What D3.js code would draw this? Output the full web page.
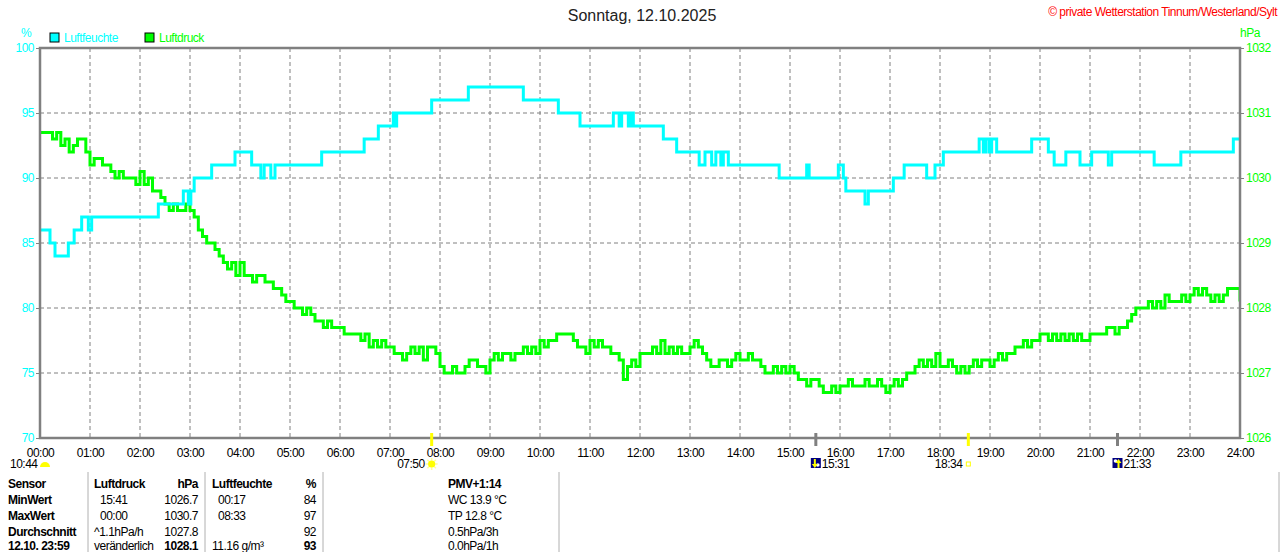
<!DOCTYPE html>
<html>
<head>
<meta charset="utf-8">
<script src="https://cdn.jsdelivr.net/npm/d3@7"></script>
<style>
  body { margin: 0; background: #fff; }
  svg { display: block; font-family: "Liberation Sans", Arial, sans-serif; }
  svg text.small { font-size: 12px; letter-spacing: -0.5px; }
</style>
</head>
<body>
<div id="chart"></div>
<script>
// ---- data ----
const title = "Sonntag, 12.10.2025";
const copyright = "\u00a9 private Wetterstation Tinnum/Westerland/Sylt";

const hourLabels = ["00:00","01:00","02:00","03:00","04:00","05:00","06:00","07:00","08:00",
  "09:00","10:00","11:00","12:00","13:00","14:00","15:00","16:00","17:00","18:00","19:00",
  "20:00","21:00","22:00","23:00","24:00"];
const humidityTicks = [70, 75, 80, 85, 90, 95, 100];
const pressureTicks = [1026, 1027, 1028, 1029, 1030, 1031, 1032];

// Luftfeuchte: [minute of day, % from that minute on]
const humidity = [
  [0,86],[12,85],[18,84],[34,85],[41,86],[50,87],[58,86],[62,87],[142,88],[172,89],[178,88],
  [181,89],[185,90],[206,91],[234,92],[254,91],[265,90],[269,91],[277,90],[282,91],[338,92],
  [389,93],[406,94],[424,95],[426,94],[428,95],[470,96],[514,97],[580,96],[622,95],[648,94],
  [688,95],[695,94],[698,95],[706,94],[709,95],[712,94],[748,93],[764,92],[791,91],[798,92],
  [806,91],[811,92],[817,91],[820,92],[826,91],[887,90],[920,91],[923,90],[958,91],[964,90],
  [967,89],[990,88],[994,89],[1024,90],[1037,91],[1064,90],[1074,91],[1084,92],[1127,93],
  [1132,92],[1135,93],[1139,92],[1142,93],[1148,92],[1190,93],[1210,92],[1217,91],[1231,92],
  [1248,91],[1262,92],[1282,91],[1286,92],[1337,91],[1369,92],[1432,93],[1440,93]
];

// Luftdruck in hPa, one reading every 5 minutes from 00:00 to 24:00
const pressureStep = 5;
const pressure = [
  1030.7,1030.7,1030.7,1030.6,1030.7,1030.5,1030.6,1030.4,1030.5,1030.6,1030.6,
  1030.4,1030.2,1030.3,1030.3,1030.2,1030.2,1030.1,1030.0,1030.1,1030.0,
  1030.0,1030.0,1029.9,1030.1,1029.9,1030.0,1029.8,1029.8,1029.7,1029.6,
  1029.5,1029.6,1029.5,1029.5,1029.6,1029.5,1029.4,1029.2,1029.1,1029.0,
  1029.0,1028.9,1028.8,1028.7,1028.6,1028.7,1028.5,1028.7,1028.5,1028.5,
  1028.4,1028.5,1028.5,1028.4,1028.4,1028.3,1028.3,1028.2,1028.1,1028.1,
  1028.0,1028.0,1027.9,1028.0,1027.9,1027.8,1027.8,1027.7,1027.8,1027.7,
  1027.7,1027.7,1027.6,1027.6,1027.6,1027.6,1027.5,1027.6,1027.4,1027.5,
  1027.4,1027.5,1027.4,1027.4,1027.3,1027.3,1027.2,1027.3,1027.4,1027.3,
  1027.4,1027.2,1027.4,1027.4,1027.3,1027.1,1027.0,1027.0,1027.1,1027.0,
  1027.0,1027.1,1027.2,1027.2,1027.1,1027.1,1027.0,1027.2,1027.3,1027.2,
  1027.3,1027.3,1027.2,1027.3,1027.3,1027.4,1027.3,1027.4,1027.3,1027.5,
  1027.4,1027.5,1027.5,1027.6,1027.6,1027.6,1027.6,1027.5,1027.4,1027.4,
  1027.3,1027.5,1027.4,1027.5,1027.4,1027.4,1027.3,1027.3,1027.2,1026.9,
  1027.1,1027.2,1027.1,1027.3,1027.3,1027.3,1027.4,1027.3,1027.5,1027.3,
  1027.4,1027.3,1027.4,1027.3,1027.3,1027.4,1027.5,1027.4,1027.3,1027.2,
  1027.1,1027.1,1027.2,1027.2,1027.1,1027.2,1027.3,1027.2,1027.2,1027.3,
  1027.2,1027.2,1027.1,1027.0,1027.0,1027.1,1027.0,1027.1,1027.0,1027.1,
  1027.0,1026.9,1026.9,1026.8,1026.9,1026.9,1026.8,1026.7,1026.7,1026.8,
  1026.7,1026.8,1026.8,1026.9,1026.8,1026.8,1026.8,1026.9,1026.8,1026.8,
  1026.9,1026.8,1026.7,1026.8,1026.9,1026.8,1026.9,1027.0,1027.0,1027.1,
  1027.2,1027.1,1027.2,1027.1,1027.3,1027.1,1027.1,1027.2,1027.1,1027.0,
  1027.1,1027.0,1027.1,1027.2,1027.1,1027.2,1027.2,1027.1,1027.2,1027.3,
  1027.2,1027.3,1027.3,1027.4,1027.4,1027.5,1027.4,1027.5,1027.5,1027.6,
  1027.6,1027.5,1027.6,1027.5,1027.6,1027.5,1027.6,1027.5,1027.6,1027.5,
  1027.5,1027.6,1027.6,1027.6,1027.6,1027.7,1027.7,1027.6,1027.7,1027.7,
  1027.8,1027.9,1028.0,1028.0,1028.0,1028.1,1028.0,1028.1,1028.0,1028.2,
  1028.1,1028.1,1028.1,1028.2,1028.1,1028.2,1028.3,1028.2,1028.3,1028.2,
  1028.1,1028.2,1028.1,1028.2,1028.3,1028.3,1028.3,1028.1
];

// sun and moon times under the axis
const dayLength = "10:44";
const events = [
  {label: "07:50", minute: 470, kind: "sunrise"},
  {label: "15:31", minute: 931, kind: "moonset"},
  {label: "18:34", minute: 1114, kind: "sunset"},
  {label: "21:33", minute: 1293, kind: "moonrise"}
];

// summary table
const tableSensor = ["Sensor", "MinWert", "MaxWert", "Durchschnitt", "12.10. 23:59"];
const tablePressNote = ["Luftdruck", "15:41", "00:00", "^1.1hPa/h", "ver\u00e4nderlich"];
const tablePressVal = ["hPa", "1026.7", "1030.7", "1027.8", "1028.1"];
const tableHumNote = ["Luftfeuchte", "00:17", "08:33", "", "11.16 g/m\u00b3"];
const tableHumVal = ["%", "84", "97", "92", "93"];
const tableExtra = ["PMV+1:14", "WC 13.9 \u00b0C", "TP 12.8 \u00b0C", "0.5hPa/3h", "0.0hPa/1h"];

// ---- chart ----
const cyan = "#00ffff", green = "#00ff00", frame = "#808080";

const margin = {top: 48, left: 40, right: 40, bottom: 114};
const width = 1280 - margin.left - margin.right;
const height = 552 - margin.top - margin.bottom;

const svg = d3.select("#chart").append("svg")
  .attr("width", 1280)
  .attr("height", 552);

const g = svg.append("g")
  .attr("transform", `translate(${margin.left},${margin.top})`);

// scales
const xScale = d3.scaleLinear().domain([0, 1440]).range([0, width]);
const yHum = d3.scaleLinear().domain([70, 100]).range([height, 0]);
const yPres = d3.scaleLinear().domain([1026, 1032]).range([height, 0]);
const hourMinutes = hourLabels.map((d, i) => i * 60);

// dashed grid
g.append("g").selectAll("line")
  .data(hourMinutes.slice(1, -1))
  .join("line")
  .attr("x1", d => xScale(d)).attr("x2", d => xScale(d))
  .attr("y1", 0).attr("y2", height)
  .attr("stroke", frame).attr("stroke-dasharray", "4,3");

g.append("g").selectAll("line")
  .data(humidityTicks.slice(1, -1))
  .join("line")
  .attr("x1", 0).attr("x2", width)
  .attr("y1", d => yHum(d)).attr("y2", d => yHum(d))
  .attr("stroke", frame).attr("stroke-dasharray", "4,3");

// lines
svg.append("clipPath").attr("id", "plot")
  .append("rect").attr("width", width).attr("height", height);

const pressLine = d3.line()
  .x((d, i) => xScale(i * pressureStep))
  .y(d => yPres(d))
  .curve(d3.curveStepAfter);

const humLine = d3.line()
  .x(d => xScale(d[0]))
  .y(d => yHum(d[1]))
  .curve(d3.curveStepAfter);

g.append("path")
  .datum(pressure)
  .attr("clip-path", "url(#plot)")
  .attr("d", pressLine)
  .attr("fill", "none")
  .attr("stroke", green)
  .attr("stroke-width", 3);

g.append("path")
  .datum(humidity)
  .attr("clip-path", "url(#plot)")
  .attr("d", humLine)
  .attr("fill", "none")
  .attr("stroke", cyan)
  .attr("stroke-width", 3);

// frame
g.append("rect")
  .attr("width", width).attr("height", height)
  .attr("fill", "none").attr("stroke", frame).attr("stroke-width", 2.5);

// axes
const xAxis = d3.axisBottom(xScale)
  .tickValues(hourMinutes)
  .tickFormat((d, i) => hourLabels[i])
  .tickSize(0).tickPadding(10);

const xAxisGroup = g.append("g")
  .attr("transform", `translate(0,${height})`)
  .call(xAxis);
xAxisGroup.select(".domain").remove();
xAxisGroup.selectAll("text").attr("class", "small").attr("fill", "#000");

const yAxisLeft = g.append("g")
  .call(d3.axisLeft(yHum).tickValues(humidityTicks).tickFormat(d3.format("d")).tickSize(4).tickPadding(2));
yAxisLeft.select(".domain").remove();
yAxisLeft.selectAll("line").attr("stroke", frame);
yAxisLeft.selectAll("text").attr("class", "small").attr("fill", cyan);

const yAxisRight = g.append("g")
  .attr("transform", `translate(${width},0)`)
  .call(d3.axisRight(yPres).tickValues(pressureTicks).tickFormat(d3.format("d")).tickSize(4).tickPadding(2));
yAxisRight.select(".domain").remove();
yAxisRight.selectAll("line").attr("stroke", frame);
yAxisRight.selectAll("text").attr("class", "small").attr("fill", green);

// units
svg.append("text").attr("class", "small").attr("x", 26).attr("y", 37).attr("text-anchor", "middle")
  .attr("fill", cyan).text("%");
svg.append("text").attr("class", "small").attr("x", 1250).attr("y", 37).attr("text-anchor", "middle")
  .attr("fill", green).text("hPa");

// legend
const legend = [
  {name: "Luftfeuchte", color: cyan, x: 50},
  {name: "Luftdruck", color: green, x: 145}
];
const lg = svg.append("g").selectAll("g").data(legend).join("g")
  .attr("transform", d => `translate(${d.x},33)`);
lg.append("rect").attr("width", 9).attr("height", 9)
  .attr("fill", d => d.color).attr("stroke", "#000");
lg.append("text").attr("class", "small").attr("x", 14).attr("y", 9)
  .attr("fill", d => d.color).text(d => d.name);

// title and copyright
svg.append("text").attr("x", 642).attr("y", 21).attr("text-anchor", "middle")
  .attr("fill", "#222").style("font-size", "16px").text(title);
svg.append("text").attr("class", "small").attr("x", 1277).attr("y", 16).attr("text-anchor", "end")
  .attr("fill", "#ff0000").text(copyright);

// sun / moon markers
const ev = g.append("g").attr("transform", `translate(0,${height})`);
ev.selectAll("line").data(events).join("line")
  .attr("x1", d => xScale(d.minute)).attr("x2", d => xScale(d.minute))
  .attr("y1", -5).attr("y2", 8)
  .attr("stroke", d => d.kind.startsWith("sun") ? "#ffff00" : frame)
  .attr("stroke-width", 3);

const evLabel = ev.selectAll("g.ev").data(events).join("g")
  .attr("class", "ev")
  .attr("transform", d => `translate(${xScale(d.minute)},0)`);

evLabel.append("text")
  .attr("class", "small")
  .attr("x", d => d.kind === "sunrise" ? -7 : d.kind === "sunset" ? -6 : 6)
  .attr("y", 30)
  .attr("text-anchor", d => d.kind.startsWith("sun") ? "end" : "start")
  .text(d => d.label);

// sunrise icon
const sunrise = evLabel.filter(d => d.kind === "sunrise");
sunrise.append("g").attr("transform", "translate(0,26)")
  .selectAll("line").data(d3.range(8)).join("line")
  .attr("x1", d => 3.5 * Math.cos(d * Math.PI / 4)).attr("y1", d => 3.5 * Math.sin(d * Math.PI / 4))
  .attr("x2", d => 6 * Math.cos(d * Math.PI / 4)).attr("y2", d => 6 * Math.sin(d * Math.PI / 4))
  .attr("stroke", "#ffff99").attr("stroke-width", 1.5);
sunrise.append("circle").attr("cx", 0).attr("cy", 26).attr("r", 3.6).attr("fill", "#ffff00");

// sunset icon
evLabel.filter(d => d.kind === "sunset").append("rect")
  .attr("x", -2).attr("y", 24).attr("width", 4).attr("height", 4)
  .attr("fill", "none").attr("stroke", "#ffff00");

// moon icons
const moon = evLabel.filter(d => d.kind.startsWith("moon"));
moon.append("rect").attr("x", -5).attr("y", 20).attr("width", 10).attr("height", 10)
  .attr("fill", "#000080");
moon.append("circle").attr("cx", d => d.kind === "moonset" ? 2 : -2).attr("cy", d => d.kind === "moonset" ? 27 : 23)
  .attr("r", 1.8).attr("fill", "#fff");
moon.append("path")
  .attr("d", d => d.kind === "moonset"
    ? "M-2,21 L-2,26 L-4,26 L-1,30 L2,26 L0,26 L0,21 Z"
    : "M0,30 L0,25 L-2,25 L1,21 L4,25 L2,25 L2,30 Z")
  .attr("fill", "#ffff00");

// day length with half sun
svg.append("text").attr("class", "small").attr("x", 10).attr("y", 468).text(dayLength);
svg.append("path").attr("d", "M40,467 A5,5 0 0 1 50,467 Z").attr("fill", "#ffff00");

// ---- table ----
const rowY = [488, 504, 520, 536, 550];
const columns = [
  {values: tableSensor, x: 8, anchor: "start", boldAll: true},
  {values: tablePressNote, x: 94, anchor: "start", pad: 6},
  {values: tablePressVal, x: 198, anchor: "end", boldLast: true},
  {values: tableHumNote, x: 212, anchor: "start", pad: 6},
  {values: tableHumVal, x: 316, anchor: "end", boldLast: true},
  {values: tableExtra, x: 448, anchor: "start"}
];

const table = svg.append("g");
columns.forEach(col => {
  table.append("g").selectAll("text")
    .data(col.values)
    .join("text")
    .attr("class", "small")
    .attr("x", (d, i) => col.x + (col.pad && i > 0 && i < 3 ? col.pad : 0))
    .attr("y", (d, i) => rowY[i])
    .attr("text-anchor", col.anchor)
    .style("font-weight", (d, i) => (col.boldAll || i === 0 || (col.boldLast && i === 4)) ? "bold" : "normal")
    .text(d => d);
});

const separators = [88, 205, 323, 559, 1279];
table.selectAll("line").data(separators).join("line")
  .attr("x1", d => d).attr("x2", d => d)
  .attr("y1", 472).attr("y2", 552)
  .attr("stroke", "#b0b0b0");
</script>
</body>
</html>
